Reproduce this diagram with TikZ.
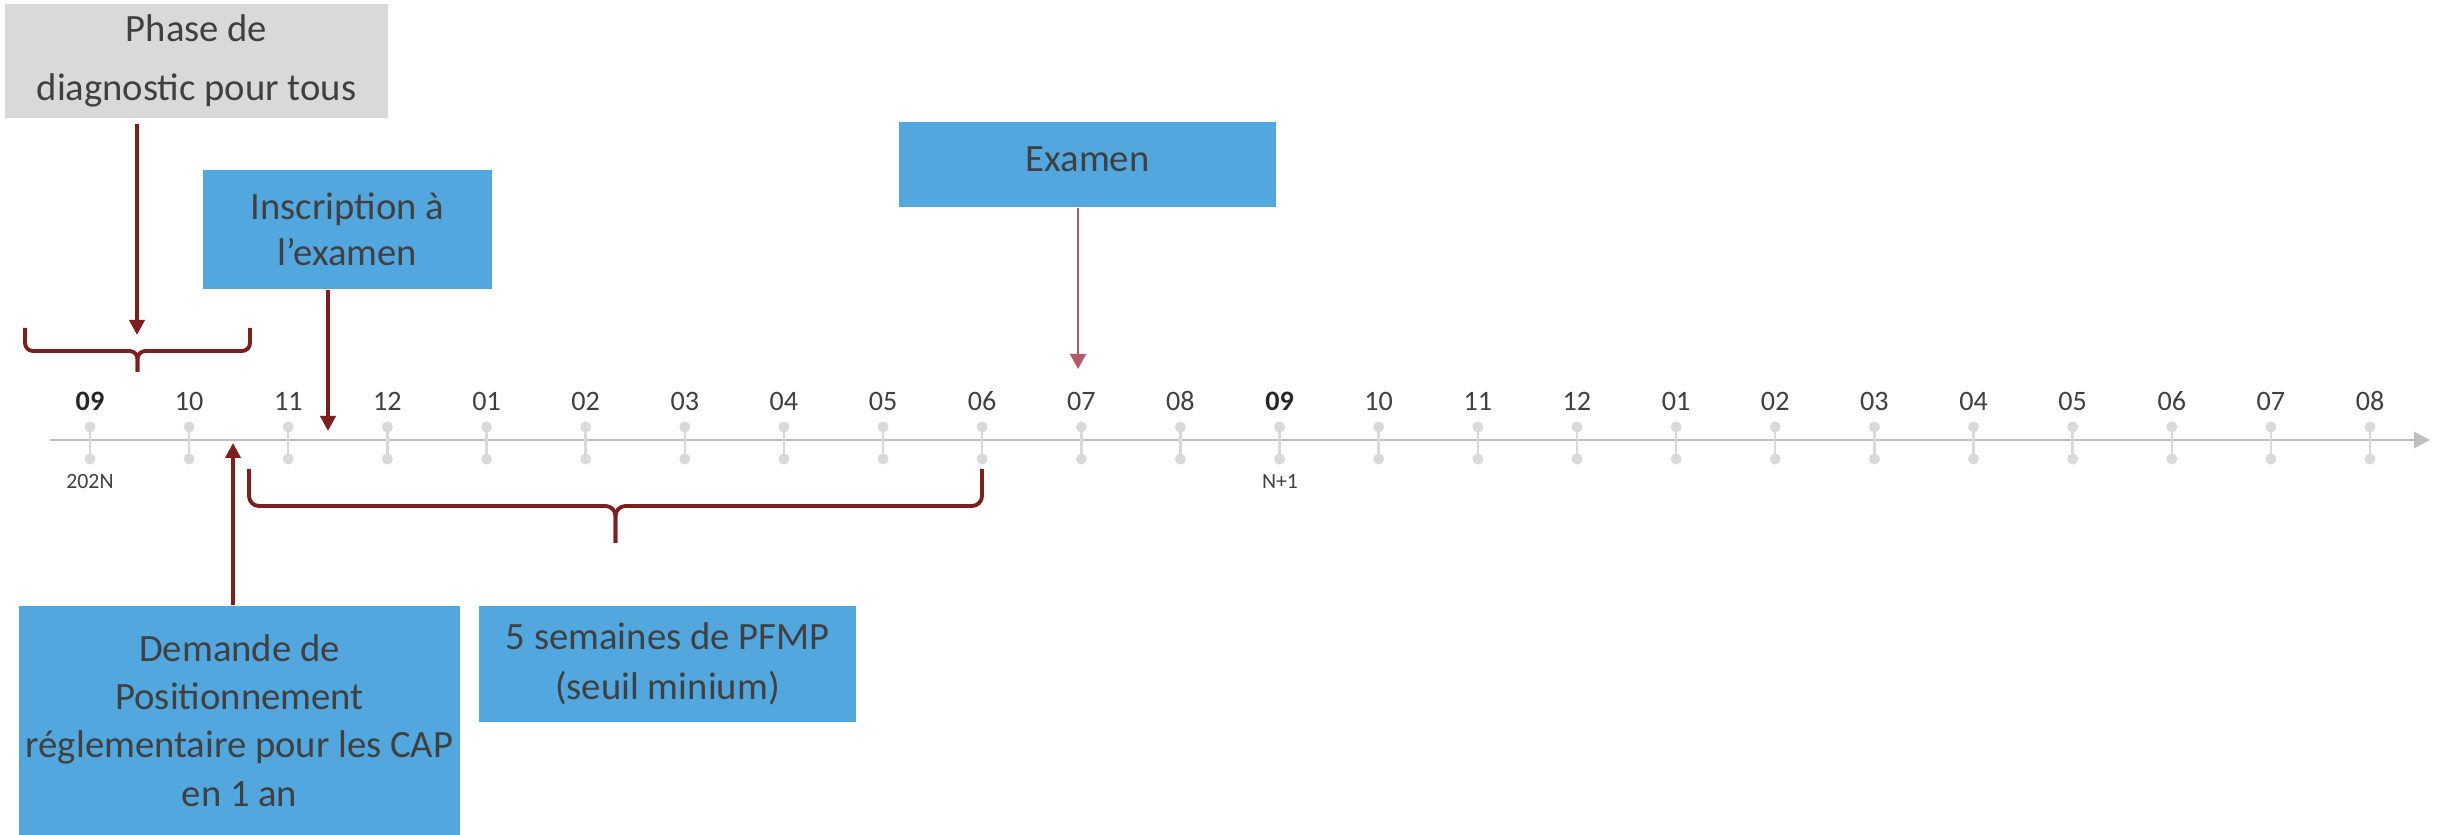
\documentclass[tikz,border=0pt]{standalone}
\usepackage{fontspec}
\setmainfont{Carlito}
\usetikzlibrary{positioning,arrows.meta}

\definecolor{boxblue}{HTML}{52A7DF}
\definecolor{boxgray}{HTML}{D9D9D9}
\definecolor{textgray}{HTML}{404040}
\definecolor{darkred}{HTML}{7B1F1F}
\definecolor{examred}{HTML}{B55A6A}
\definecolor{axisgray}{HTML}{BFBFBF}
\definecolor{tickgray}{HTML}{D9D9D9}

\begin{document}
\begin{tikzpicture}[
    box/.style={
        rectangle,
        fill=boxblue,
        inner sep=0pt,
        align=center,
        text=textgray,
        font=\fontsize{11}{13.7}\selectfont
    },
    monthlabel/.style={
        anchor=base,
        text=textgray,
        font=\fontsize{8}{9}\selectfont
    },
    yearlabel/.style={
        anchor=base,
        text=textgray,
        font=\fontsize{6.2}{7}\selectfont
    },
    arrow/.style={
        -{Triangle[length=0.15cm,width=0.15cm]},
        line width=1.1pt,
        draw=darkred
    },
    bracket/.style={
        draw=darkred,
        line width=1.1pt,
        rounded corners=0.08cm
    },
    axis/.style={
        -{Triangle[length=0.16cm,width=0.16cm]},
        line width=0.85pt,
        draw=axisgray
    },
    monthtick/.style={
        line width=0.7pt,
        draw=tickgray
    }
]

\useasboundingbox (0,0) rectangle (24.43,-8.35);

% Time axis
\coordinate (axisstart) at (0.50,-4.40);
\coordinate (axisend) at (24.30,-4.40);
\draw[axis] (axisstart) -- (axisend);

% Months of year N and N+1
\foreach \m [count=\i from 0] in {09,10,11,12,01,02,03,04,05,06,07,08,09,10,11,12,01,02,03,04,05,06,07,08} {
    \pgfmathsetmacro\x{0.90+0.9913*\i}
    \draw[monthtick] (\x,-4.27) -- (\x,-4.59);
    \fill[tickgray] (\x,-4.27) circle (0.055) (\x,-4.59) circle (0.055);
    \ifnum\m=9
        \node[monthlabel, text=black!85, font=\fontsize{8}{9}\selectfont\bfseries] (m\i) at (\x,-4.11) {\m};
    \else
        \node[monthlabel] (m\i) at (\x,-4.11) {\m};
    \fi
}
\node[yearlabel] (yearN) at (0.90,-4.89) {202N};
\node[yearlabel] (yearN1) at (12.80,-4.89) {N+1};

% Diagnostic phase
\node[box, fill=boxgray, minimum width=3.83cm, minimum height=1.14cm, font=\fontsize{11}{17}\selectfont] (phasebox) at (1.965,-0.61) {Phase de\\diagnostic pour tous};
\draw[bracket] (0.25,-3.28) |- (1.375,-3.51) -- (1.375,-3.72);
\draw[bracket] (2.50,-3.28) |- (1.375,-3.51) -- (1.375,-3.72);
\coordinate (phasetip) at (1.37,-3.35);
\draw[arrow, shorten <=0.05cm] (phasebox.south -| phasetip) -- (phasetip);

% Registration
\node[box, minimum width=2.89cm, minimum height=1.19cm, font=\fontsize{11}{13.1}\selectfont] (inscrbox) at (3.475,-2.295) {Inscription à\\l’examen};
\coordinate (inscrtip) at (3.28,-4.31);
\draw[arrow] (inscrbox.south -| inscrtip) -- (inscrtip);

% Exam
\node[box, minimum width=3.77cm, minimum height=0.85cm, text depth=3pt] (exambox) at (10.875,-1.645) {Examen};
\coordinate (examtip) at (10.78,-3.69);
\draw[-{Triangle[length=0.15cm,width=0.16cm]}, line width=0.6pt, draw=examred] (exambox.south -| examtip) -- (examtip);

% Positioning request
\node[box, minimum width=4.41cm, minimum height=2.29cm] (demandbox) at (2.395,-7.205) {Demande de\\Positionnement\\réglementaire pour les CAP\\en 1 an};
\coordinate (demandtip) at (2.33,-4.43);
\draw[arrow] (demandbox.north -| demandtip) -- (demandtip);

% PFMP period
\draw[bracket, rounded corners=0.1cm] (2.49,-4.69) |- (6.155,-5.06) -- (6.155,-5.43);
\draw[bracket, rounded corners=0.1cm] (9.82,-4.69) |- (6.155,-5.06) -- (6.155,-5.43);
\node[box, minimum width=3.77cm, minimum height=1.16cm, font=\fontsize{11}{14.2}\selectfont] (pfmpbox) at (6.675,-6.64) {5 semaines de PFMP\\(seuil minium)};

\end{tikzpicture}
\end{document}
